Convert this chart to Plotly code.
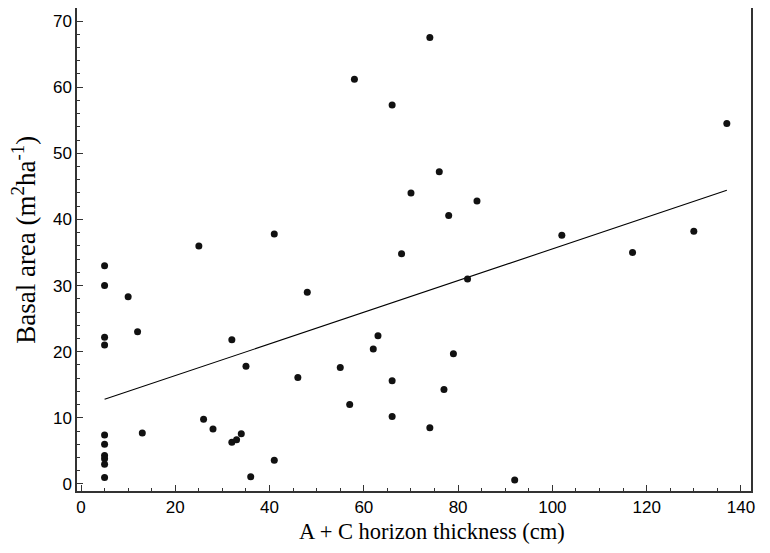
import plotly.graph_objects as go

thickness = [5, 5, 5, 5, 5, 5, 5, 5, 5, 5,
             10, 12, 13, 25, 26, 28, 32, 32, 33, 34, 35, 36, 41, 41, 46, 48,
             55, 57, 58, 62, 63, 66, 66, 66, 68, 70, 74, 74, 76, 77, 78, 79,
             82, 84, 92, 102, 117, 130, 137]
basal = [33.0, 30.0, 22.2, 21.0, 7.4, 6.0, 4.3, 3.8, 3.0, 1.0,
         28.3, 23.0, 7.7, 36.0, 9.8, 8.3, 21.8, 6.3, 6.7, 7.6, 17.8, 1.1, 37.8, 3.6, 16.1, 29.0,
         17.6, 12.0, 61.2, 20.4, 22.4, 57.3, 15.6, 10.2, 34.8, 44.0, 67.5, 8.5, 47.2, 14.3, 40.6, 19.7,
         31.0, 42.8, 0.6, 37.6, 35.0, 38.2, 54.5]

fit_x = [5, 137]
fit_y = [12.8, 44.4]

x_ticks = [0, 20, 40, 60, 80, 100, 120, 140]
y_ticks = [0, 10, 20, 30, 40, 50, 60, 70]

x_title = "A + C horizon thickness (cm)"
y_title = "Basal area (m<sup>2</sup>ha<sup>-1</sup>)"

fig = go.Figure()
fig.add_trace(go.Scatter(x=fit_x, y=fit_y, mode="lines",
                         line=dict(color="black", width=1.1), showlegend=False))
fig.add_trace(go.Scatter(x=thickness, y=basal, mode="markers",
                         marker=dict(color="#111111", size=7), showlegend=False))

axis_common = dict(showgrid=False, zeroline=False, showline=True, linecolor="#333333",
                   linewidth=1.5, mirror=True, ticks="inside", ticklen=6, tickwidth=1.2,
                   tickcolor="#333333", automargin=False,
                   tickfont=dict(family="Liberation Sans, Arial", size=17, color="black"))

serif = "Liberation Serif, Times New Roman"

fig.update_layout(
    width=762, height=545,
    margin=dict(l=69, r=19, t=0, b=62, autoexpand=False),
    paper_bgcolor="white", plot_bgcolor="white",
    xaxis=dict(range=[-0.85, 142.13], tickvals=x_ticks,
               minor=dict(dtick=5, ticks="inside", ticklen=3, tickcolor="#333333"),
               **axis_common),
    yaxis=dict(range=[-1.06, 71.97], tickvals=y_ticks,
               minor=dict(dtick=2, ticks="inside", ticklen=3, tickcolor="#333333"),
               **axis_common),
    annotations=[
        dict(text=x_title, xref="paper", yref="paper", x=0.527, y=0,
             xanchor="center", yanchor="middle", yshift=-40, showarrow=False,
             font=dict(family=serif, size=22.5, color="black")),
        dict(text=y_title, xref="paper", yref="paper", x=0, y=0.52,
             xanchor="center", yanchor="middle", xshift=-53, showarrow=False,
             textangle=-90, font=dict(family=serif, size=27, color="black")),
    ],
)

fig.write_html("out.html")
